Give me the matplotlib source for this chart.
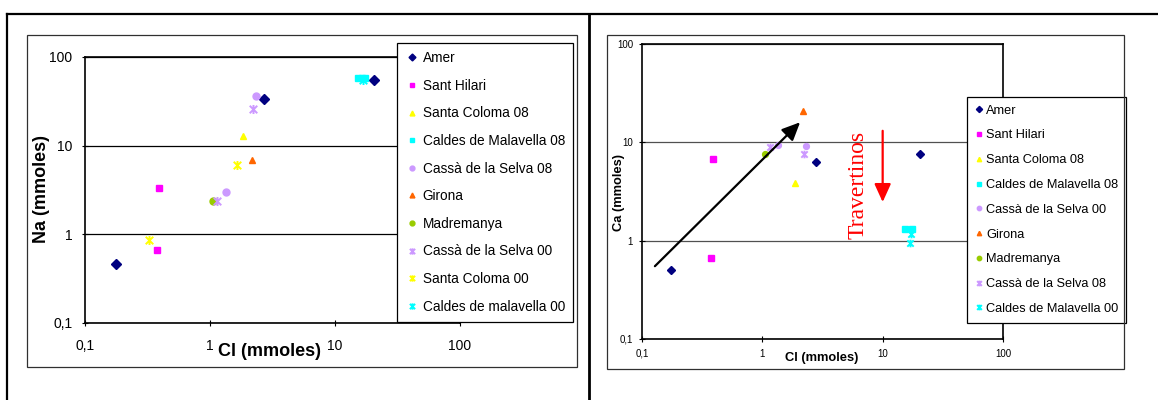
import matplotlib.pyplot as plt
from matplotlib.patches import Rectangle
from matplotlib.lines import Line2D
from matplotlib.path import Path
from matplotlib.ticker import NullLocator

plt.rcParams['font.family'] = ['Liberation Sans', 'DejaVu Sans']

W, H = 1158, 400

# ---- Na vs Cl (mmoles) ----
na_names = ['Amer', 'Sant Hilari', 'Santa Coloma 08', 'Caldes de Malavella 08',
            'Cassà de la Selva 08', 'Girona', 'Madremanya', 'Cassà de la Selva 00',
            'Santa Coloma 00', 'Caldes de malavella 00']
na_cl = [
    [0.176, 2.72, 20.5],
    [0.389, 0.375],
    [1.82],
    [15.3, 16.3, 17.3],
    [2.32, 1.35],
    [2.17],
    [1.06],
    [2.21, 1.14],
    [0.323, 1.64],
    [16.7],
]
na_na = [
    [0.46, 33.7, 54.7],
    [3.37, 0.67],
    [12.7],
    [58.5, 58.0, 58.5],
    [36.7, 2.99],
    [6.9],
    [2.37],
    [25.8, 2.37],
    [0.86, 6.1],
    [55.0],
]

# ---- Ca vs Cl (mmoles) ----
ca_names = ['Amer', 'Sant Hilari', 'Santa Coloma 08', 'Caldes de Malavella 08',
            'Cassà de la Selva 00', 'Girona', 'Madremanya', 'Cassà de la Selva 08',
            'Caldes de Malavella 00']
ca_cl = [
    [0.175, 2.77, 20.6],
    [0.388, 0.376],
    [1.86],
    [15.3, 17.4],
    [2.31, 1.34],
    [2.18],
    [1.06],
    [1.15, 2.21],
    [17.0, 17.3],
]
ca_ca = [
    [0.50, 6.3, 7.6],
    [6.8, 0.667],
    [3.9],
    [1.32, 1.32],
    [9.1, 9.3],
    [20.9],
    [7.6],
    [8.9, 7.6],
    [0.95, 1.17],
]

ticks = [0.1, 1, 10, 100]
tick_labels = ['0,1', '1', '10', '100']

# Excel-like "star": an x crossed by a vertical bar
star = Path([(-1, -1), (1, 1), (-1, 1), (1, -1), (0, -1.2), (0, 1.2)],
            [Path.MOVETO, Path.LINETO, Path.MOVETO, Path.LINETO, Path.MOVETO, Path.LINETO])

# marker / colour per series, in legend order
na_styles = [('D', '#000080'), ('s', '#FF00FF'), ('^', '#FFFF00'), ('s', '#00FFFF'),
             ('o', '#CC99FF'), ('^', '#FF6600'), ('o', '#99CC00'), (star, '#CC99FF'),
             (star, '#FFFF00'), (star, '#00FFFF')]
ca_styles = [('D', '#000080'), ('s', '#FF00FF'), ('^', '#FFFF00'), ('s', '#00FFFF'),
             ('o', '#CC99FF'), ('^', '#FF6600'), ('o', '#99CC00'), (star, '#CC99FF'),
             (star, '#00FFFF')]


def fx(px):
    return px / W


def fy(py):
    return 1 - py / H


fig = plt.figure(figsize=(W / 100, H / 100), dpi=100)

# table lines around the two cells
fig.add_artist(Line2D([fx(7), fx(W)], [fy(14), fy(14)], color='black', lw=1.6))
fig.add_artist(Line2D([fx(7), fx(7)], [fy(14), 0], color='black', lw=1.6))
fig.add_artist(Line2D([fx(589), fx(589)], [fy(14), 0], color='black', lw=2))
# chart area boxes
fig.add_artist(Rectangle((fx(27), fy(367)), fx(577) - fx(27), fy(35) - fy(367),
                         fill=False, edgecolor='#303030', lw=0.9))
fig.add_artist(Rectangle((fx(607), fy(369)), fx(1124) - fx(607), fy(35) - fy(369),
                         fill=False, edgecolor='#303030', lw=0.9))


def setup(ax, fs, xpad, ypad, gridcol):
    ax.set_xscale('log')
    ax.set_yscale('log')
    ax.set_xlim(0.1, 100)
    ax.set_ylim(0.1, 100)
    ax.set_xticks(ticks)
    ax.set_xticklabels(tick_labels)
    ax.set_yticks(ticks)
    ax.set_yticklabels(tick_labels)
    ax.xaxis.set_minor_locator(NullLocator())
    ax.yaxis.set_minor_locator(NullLocator())
    ax.tick_params(axis='x', direction='inout', length=4, width=0.8, labelsize=fs, pad=xpad, colors='black')
    ax.tick_params(axis='y', direction='inout', length=4, width=0.8, labelsize=fs, pad=ypad, colors='black')
    ax.grid(axis='y', which='major', color=gridcol, lw=0.9)
    ax.set_axisbelow(True)
    for s in ax.spines.values():
        s.set_color('black')
        s.set_linewidth(1.2)


def scatter_series(ax, names, xs_list, ys_list, style_list, ms, star_ms):
    for name, xs, ys, (m, c) in zip(names, xs_list, ys_list, style_list):
        if m is star:
            ax.plot(xs, ys, ls='none', marker=m, color=c, ms=star_ms, mew=1.4, label=name)
        else:
            ax.plot(xs, ys, ls='none', marker=m, color=c, ms=ms, mec=c, label=name)


# ---- left chart ----
ax1 = fig.add_axes([fx(85), fy(323), fx(460) - fx(85), fy(57) - fy(323)])
setup(ax1, 10, 9.5, 7, 'black')
scatter_series(ax1, na_names, na_cl, na_na, na_styles, 5, 6.5)
ax1.set_xlabel('Cl (mmoles)', fontsize=13, fontweight='bold', va='center')
ax1.xaxis.set_label_coords(0.493, -0.109)
ax1.set_ylabel('Na (mmoles)', fontsize=13, fontweight='bold', va='center')
ax1.yaxis.set_label_coords(-0.115, 0.504)
leg1 = ax1.legend(loc='upper left', bbox_to_anchor=(fx(397), fy(43)),
                  bbox_transform=fig.transFigure, fontsize=9.8, frameon=True,
                  fancybox=False, edgecolor='black', framealpha=1, borderaxespad=0,
                  borderpad=0.6, labelspacing=1.0, handlelength=1.0,
                  handletextpad=0.3, markerscale=0.7)
leg1.get_frame().set_linewidth(0.9)

# ---- right chart ----
ax2 = fig.add_axes([fx(642), fy(339), fx(1003) - fx(642), fy(44) - fy(339)])
setup(ax2, 7, 5, 4.5, '#505050')
scatter_series(ax2, ca_names, ca_cl, ca_ca, ca_styles, 4.2, 5.5)
ax2.set_xlabel('Cl (mmoles)', fontsize=9.3, fontweight='bold', va='center')
ax2.xaxis.set_label_coords(0.499, -0.064)
ax2.set_ylabel('Ca (mmoles)', fontsize=9.3, fontweight='bold', va='center')
ax2.yaxis.set_label_coords(-0.064, 0.498)

# dilution trend and travertine deposition arrows
ax2.annotate('', xy=(2.06, 16), xytext=(0.128, 0.55),
             arrowprops=dict(arrowstyle='-|>,head_length=1.1,head_width=0.5',
                             color='black', lw=1.6, shrinkA=0, shrinkB=0))
ax2.annotate('', xy=(10, 2.47), xytext=(10, 13.1),
             arrowprops=dict(arrowstyle='-|>,head_length=1.1,head_width=0.5',
                             color='red', lw=1.6, shrinkA=0, shrinkB=0))
ax2.text(6.19, 3.66, 'Travertinos', rotation=90, ha='center', va='center',
         color='red', fontsize=17, family=['Liberation Serif', 'DejaVu Serif'])

leg2 = ax2.legend(loc='upper left', bbox_to_anchor=(fx(967), fy(97)),
                  bbox_transform=fig.transFigure, fontsize=9.2, frameon=True,
                  fancybox=False, edgecolor='black', framealpha=1, borderaxespad=0,
                  borderpad=0.6, labelspacing=1.0, handlelength=0.7,
                  handletextpad=0.2, markerscale=0.75)
leg2.get_frame().set_linewidth(0.9)

fig.savefig('out.png', dpi=100)
